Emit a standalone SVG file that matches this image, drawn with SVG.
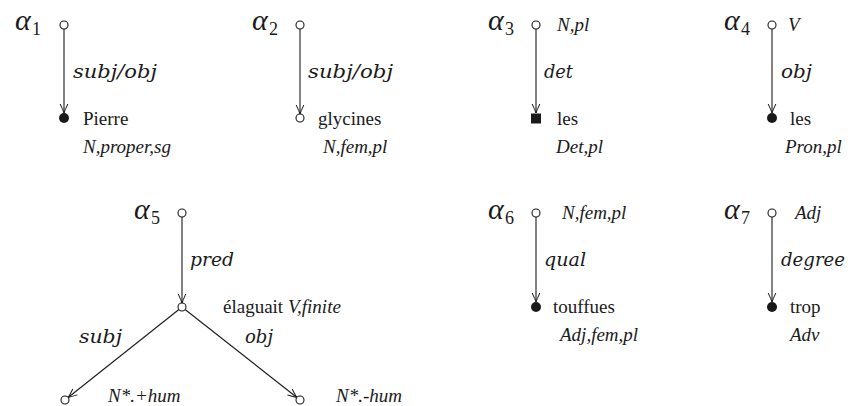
<svg xmlns="http://www.w3.org/2000/svg" width="858" height="406" viewBox="0 0 858 406" font-family="'Liberation Serif', 'Times New Roman', serif">
<style>
text{font-family:'Liberation Serif','Times New Roman',serif;fill:#1a1a1a}
.w{font-size:19px}
.f{font-size:19px;font-style:italic}
.m{font-family:'DejaVu Serif',serif;font-size:19px;font-style:italic}
.a{font-size:30px;font-style:italic;font-weight:normal}
.s{font-size:18px}
.open{fill:#fff;stroke:#1a1a1a;stroke-width:1.1}
.fill{fill:#1a1a1a}
.e{stroke:#1a1a1a;stroke-width:1.1;fill:none}
</style>
<defs>
<marker id="arr" markerWidth="12" markerHeight="12" refX="0" refY="0" viewBox="-10 -6 12 12" orient="auto" markerUnits="userSpaceOnUse">
<path d="M -9 -3.8 Q -3 -1 0 0 Q -3 1 -9 3.8" fill="none" stroke="#1a1a1a" stroke-width="1"/>
</marker>
</defs>
<g id="connectors">
<line class="e" x1="64" y1="29" x2="64" y2="113" marker-end="url(#arr)"/>
<line class="e" x1="300" y1="29" x2="300" y2="114" marker-end="url(#arr)"/>
<line class="e" x1="536" y1="29" x2="536" y2="113" marker-end="url(#arr)"/>
<line class="e" x1="772" y1="29" x2="772" y2="113" marker-end="url(#arr)"/>
<line class="e" x1="182" y1="217" x2="182" y2="303" marker-end="url(#arr)"/>
<line class="e" x1="178.9" y1="309.5" x2="68.1" y2="397.5" marker-end="url(#arr)"/>
<line class="e" x1="185.1" y1="309.5" x2="296.9" y2="397.5" marker-end="url(#arr)"/>
<line class="e" x1="536" y1="217" x2="536" y2="302" marker-end="url(#arr)"/>
<line class="e" x1="772" y1="217" x2="772" y2="302" marker-end="url(#arr)"/>
<text class="m" x="73" y="78" textLength="84" lengthAdjust="spacingAndGlyphs">subj/obj</text>
<text class="m" x="308" y="78" textLength="85" lengthAdjust="spacingAndGlyphs">subj/obj</text>
<text class="m" x="544" y="78" textLength="29" lengthAdjust="spacingAndGlyphs">det</text>
<text class="m" x="781" y="78" textLength="31" lengthAdjust="spacingAndGlyphs">obj</text>
<text class="m" x="190" y="266" textLength="44" lengthAdjust="spacingAndGlyphs">pred</text>
<text class="m" x="79" y="343" textLength="43" lengthAdjust="spacingAndGlyphs">subj</text>
<text class="m" x="245" y="343" textLength="28" lengthAdjust="spacingAndGlyphs">obj</text>
<text class="m" x="544" y="266" textLength="42" lengthAdjust="spacingAndGlyphs">qual</text>
<text class="m" x="781" y="266" textLength="64" lengthAdjust="spacingAndGlyphs">degree</text>
</g>
<g id="alpha1">
<text class="a" x="15" y="30">α</text><text class="s" x="32" y="35">1</text>
<circle class="open" cx="64" cy="25" r="4"/>
</g>
<g id="pierre">
<circle class="fill" cx="64" cy="118" r="5"/>
<text class="w" x="83" y="125">Pierre</text>
<text class="f" x="83" y="153">N,proper,sg</text>
</g>
<g id="alpha2">
<text class="a" x="252" y="30">α</text><text class="s" x="269" y="35">2</text>
<circle class="open" cx="300" cy="25" r="4"/>
</g>
<g id="glycines">
<circle class="open" cx="300" cy="118" r="4"/>
<text class="w" x="318" y="125">glycines</text>
<text class="f" x="323" y="153">N,fem,pl</text>
</g>
<g id="alpha3">
<text class="a" x="488" y="30">α</text><text class="s" x="505" y="35">3</text>
<circle class="open" cx="536" cy="25" r="4"/>
<text class="f" x="557" y="31">N,pl</text>
</g>
<g id="les-det">
<rect class="fill" x="531" y="113.5" width="10" height="10"/>
<text class="w" x="557" y="125">les</text>
<text class="f" x="556" y="153">Det,pl</text>
</g>
<g id="alpha4">
<text class="a" x="724" y="30">α</text><text class="s" x="741" y="35">4</text>
<circle class="open" cx="772" cy="25" r="4"/>
<text class="f" x="788" y="31">V</text>
</g>
<g id="les-pron">
<circle class="fill" cx="772" cy="118" r="5"/>
<text class="w" x="790" y="125">les</text>
<text class="f" x="785" y="153">Pron,pl</text>
</g>
<g id="alpha5">
<text class="a" x="134" y="219">α</text><text class="s" x="151" y="224">5</text>
<circle class="open" cx="182" cy="213" r="4"/>
</g>
<g id="elaguait">
<circle class="open" cx="182" cy="307" r="4"/>
<text class="w" x="223" y="313">élaguait <tspan font-style="italic">V,finite</tspan></text>
</g>
<g id="n-hum-plus">
<circle class="open" cx="65" cy="400" r="4"/>
<text class="f" x="108" y="402">N*.+hum</text>
</g>
<g id="n-hum-minus">
<circle class="open" cx="300" cy="400" r="4"/>
<text class="f" x="336" y="402">N*.-hum</text>
</g>
<g id="alpha6">
<text class="a" x="488" y="219">α</text><text class="s" x="505" y="224">6</text>
<circle class="open" cx="536" cy="213" r="4"/>
<text class="f" x="562" y="219">N,fem,pl</text>
</g>
<g id="touffues">
<circle class="fill" cx="536" cy="307" r="5"/>
<text class="w" x="553" y="313">touffues</text>
<text class="f" x="560" y="341">Adj,fem,pl</text>
</g>
<g id="alpha7">
<text class="a" x="724" y="219">α</text><text class="s" x="741" y="224">7</text>
<circle class="open" cx="772" cy="213" r="4"/>
<text class="f" x="795" y="219">Adj</text>
</g>
<g id="trop">
<circle class="fill" cx="772" cy="307" r="5"/>
<text class="w" x="790" y="313">trop</text>
<text class="f" x="790" y="341">Adv</text>
</g>
</svg>
